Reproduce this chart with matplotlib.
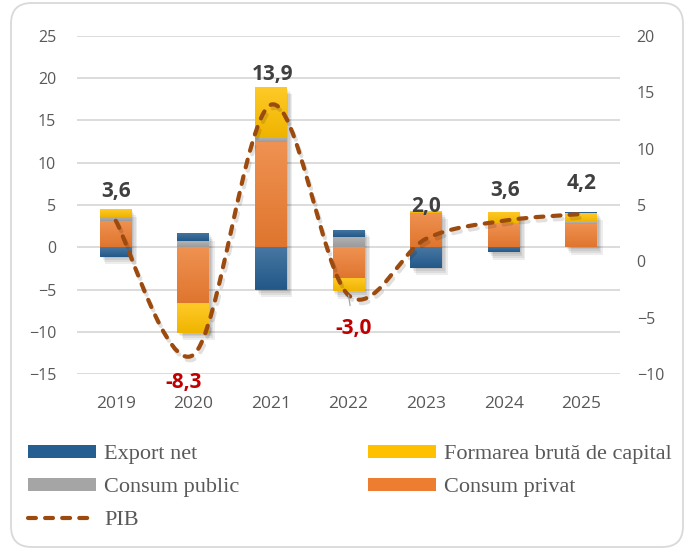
import matplotlib
matplotlib.use("Agg")
import matplotlib.pyplot as plt
import numpy as np
from matplotlib.path import Path
from matplotlib.patches import PathPatch, Patch, FancyBboxPatch
from matplotlib.lines import Line2D
from matplotlib.colors import LinearSegmentedColormap, to_rgb
import matplotlib.patheffects as pe

# ---------------- data ----------------
years = ["2019", "2020", "2021", "2022", "2023", "2024", "2025"]
consum_privat = [3.1, -6.6, 12.5, -3.6, 4.1, 2.8, 2.8]
consum_public = [0.5, 0.7, 0.5, 1.2, 0.0, 0.05, 0.2]
formare_capital = [0.9, -3.5, 6.0, -1.6, 0.15, 1.35, 1.0]
export_net = [-1.1, 1.0, -5.0, 0.9, -2.4, -0.6, 0.15]
pib = [3.6, -8.3, 13.9, -3.0, 2.0, 3.6, 4.2]
pib_labels = ["3,6", "-8,3", "13,9", "-3,0", "2,0", "3,6", "4,2"]
left_ticks = [-15, -10, -5, 0, 5, 10, 15, 20, 25]
right_ticks = [-10, -5, 0, 5, 10, 15, 20]

# ---------------- style ----------------
C_PRIV = "#ED7D31"
C_PUB = "#A5A5A5"
C_FORM = "#FFC000"
C_EXP = "#255E91"
C_PIB = "#9C4A0E"
TXT = "#595959"
DASH = (0, (1.9, 2.2))
LW = 3.0

W, H = 690, 552
fig = plt.figure(figsize=(W / 100, H / 100), dpi=100)
fig.patch.set_facecolor("white")

# rounded border
border = FancyBboxPatch((11 / W, 5 / H), (683 - 11) / W, (549 - 5) / H,
                        boxstyle="round,pad=0,rounding_size=0.03",
                        transform=fig.transFigure, fill=False,
                        edgecolor="#D9D9D9", linewidth=1.3, mutation_aspect=W / H)
fig.patches.append(border)

ax = fig.add_axes([77 / W, 1 - 374 / H, (620 - 77) / W, (374 - 36) / H])
ax.yaxis.grid(True, color="#D9D9D9", linewidth=1.3)
ax.set_axisbelow(True)
for s in ax.spines.values():
    s.set_visible(False)
ax.tick_params(axis="both", length=0, labelsize=11.5, labelcolor=TXT)
ax.tick_params(axis="y", pad=15)
ax.tick_params(axis="x", pad=16, labelsize=12.5)

x = np.arange(len(years))
bw = 0.41
series = [(consum_privat, C_PRIV), (consum_public, C_PUB),
          (formare_capital, C_FORM), (export_net, C_EXP)]

# totals for a soft shadow under each stack
arr = np.array([s[0] for s in series], dtype=float)
pos_tot = np.where(arr > 0, arr, 0).sum(axis=0)
neg_tot = np.where(arr < 0, arr, 0).sum(axis=0)
soft = [pe.SimplePatchShadow(offset=(o, -1.4 * o), alpha=0.07, shadow_rgbFace="#000000")
        for o in (1.0, 2.0, 3.0, 4.0)] + [pe.Normal()]
ax.bar(x, pos_tot - neg_tot, bw, bottom=neg_tot, color="white", linewidth=0,
       zorder=1.9, path_effects=soft)


def shade(c, f):
    r = np.array(to_rgb(c))
    return tuple(r + (1 - r) * f) if f > 0 else tuple(r * (1 + f))


pos_base = np.zeros(len(years))
neg_base = np.zeros(len(years))
grad = np.linspace(0, 1, 64).reshape(-1, 1)
for vals, col in series:
    v = np.array(vals, dtype=float)
    bottoms = np.where(v >= 0, pos_base, neg_base)
    bars = ax.bar(x, v, bw, bottom=bottoms, color=col, linewidth=0, zorder=2)
    cmap = LinearSegmentedColormap.from_list("g", [shade(col, -0.06), shade(col, 0.16)])
    for b in bars:
        x0, y0 = b.get_x(), b.get_y()
        w, h = b.get_width(), b.get_height()
        if h == 0:
            continue
        lo, hi = min(y0, y0 + h), max(y0, y0 + h)
        im = ax.imshow(grad, extent=[x0, x0 + w, lo, hi], origin="lower",
                       aspect="auto", cmap=cmap, zorder=2.1, interpolation="bilinear")
        im.set_clip_path(b)
    pos_base = pos_base + np.where(v >= 0, v, 0)
    neg_base = neg_base + np.where(v < 0, v, 0)

ax.set_ylim(-15, 25)
ax.set_xlim(-0.5, len(years) - 0.5)
ax.set_yticks(left_ticks)
ax.set_xticks(range(len(years)))
ax.set_xticklabels(years)
ax.set_aspect("auto")
for lab in ax.get_yticklabels() + ax.get_xticklabels():
    lab.set_fontfamily("Open Sans")

# secondary axis for PIB
ax2 = ax.twinx()
ax2.set_ylim(-10, 20)
ax2.set_yticks(right_ticks)
for s in ax2.spines.values():
    s.set_visible(False)
ax2.tick_params(axis="y", length=0, labelsize=11.5, labelcolor=TXT, pad=12)
for lab in ax2.get_yticklabels():
    lab.set_fontfamily("Open Sans")

# smooth (Catmull-Rom -> cubic Bezier) line through PIB points
pts = np.column_stack([x, np.array(pib, dtype=float)])
verts = [tuple(pts[0])]
codes = [Path.MOVETO]
n = len(pts)
for i in range(n - 1):
    p0 = pts[i - 1] if i > 0 else pts[i]
    p1 = pts[i]
    p2 = pts[i + 1]
    p3 = pts[i + 2] if i + 2 < n else pts[i + 1]
    c1 = p1 + (p2 - p0) / 6.0
    c2 = p2 - (p3 - p1) / 6.0
    verts += [tuple(c1), tuple(c2), tuple(p2)]
    codes += [Path.CURVE4] * 3
line_patch = PathPatch(Path(verts, codes), fill=False, edgecolor=C_PIB,
                       linewidth=LW, linestyle=DASH,
                       capstyle="round", zorder=5)
line_patch.set_path_effects([pe.SimpleLineShadow(offset=(1.5, -2.5), alpha=0.12), pe.Normal()])
ax2.add_patch(line_patch)

# value labels
offsets = [(0, 21), (-7, -20), (1, 22), (3.6, -24), (0, 23.5), (1, 22), (0, 22)]
for i, (v, lab) in enumerate(zip(pib, pib_labels)):
    col = "#C00000" if v < 0 else "#404040"
    kw = {}
    if i == 3:
        kw["arrowprops"] = dict(arrowstyle="-", color="#A6A6A6", lw=0.9,
                                shrinkA=7, shrinkB=0)
    ax2.annotate(lab, (x[i], v), xytext=offsets[i], textcoords="offset points",
                 ha="center", va="center", fontsize=15, fontweight="bold",
                 color=col, fontfamily="Open Sans", zorder=6, **kw)

# legend
handles = [Patch(facecolor=C_EXP, label="Export net"),
           Patch(facecolor=C_PUB, label="Consum public"),
           Line2D([0], [0], color=C_PIB, lw=LW, linestyle=DASH,
                  dash_capstyle="round", label="PIB"),
           Patch(facecolor=C_FORM, label="Formarea brută de capital"),
           Patch(facecolor=C_PRIV, label="Consum privat")]
leg = fig.legend(handles=handles, loc="upper left", ncol=2,
                 bbox_to_anchor=(28 / W, 1 - 445 / H), frameon=False,
                 prop={"family": "Liberation Serif", "size": 16},
                 handlelength=3.06, handleheight=0.5, handletextpad=0.36,
                 labelspacing=0.62, columnspacing=5.8, borderpad=0,
                 borderaxespad=0)
for t in leg.get_texts():
    t.set_color(TXT)

fig.savefig("out.png", dpi=100)
